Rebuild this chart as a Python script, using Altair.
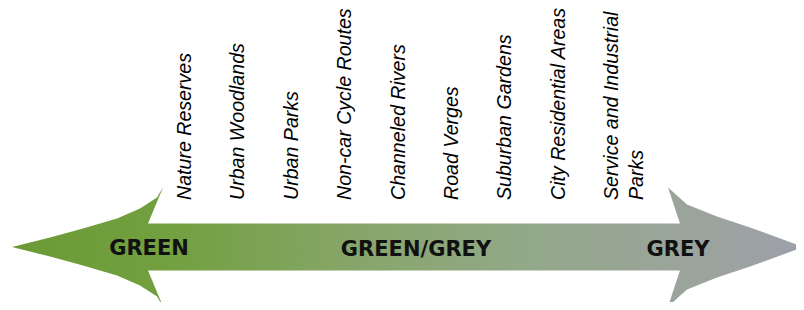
import altair as alt
import pandas as pd

# Categories along the green -> grey spectrum (left to right)
categories = [
    "Nature Reserves",
    "Urban Woodlands",
    "Urban Parks",
    "Non-car Cycle Routes",
    "Channeled Rivers",
    "Road Verges",
    "Suburban Gardens",
    "City Residential Areas",
    "Service and Industrial\nParks",
]

# Spectrum end / middle captions
captions = ["GREEN", "GREEN/GREY", "GREY"]
caption_pos = [149, 416, 678]

# Arrow outline (position along spectrum, half-width)
outline_x = [12, 50, 83, 117, 140, 157, 162.9, 163, 668, 668.1, 687, 717, 750, 783, 804]
outline_w = [0, 9.5, 18.5, 28.5, 38.5, 49.5, 59.5, 23.5, 23.5, 59.5, 42.5, 30.5, 19.5, 7.5, 0]
CENTER = 247

# Swept-back barbs (notches cut out behind each arrow head)
notch_id = ["lt", "lt", "lb", "lb", "rt", "rt", "rb", "rb"]
notch_x = [148, 163, 148, 163, 668, 680, 668, 680]
notch_y = [223.5, 187.5, 270.5, 306.5, 187.5, 223.5, 306.5, 270.5]
notch_y2 = [223.5, 223.5, 270.5, 270.5, 223.5, 223.5, 270.5, 270.5]

arrow_df = pd.DataFrame({
    "x": outline_x,
    "ytop": [CENTER - w for w in outline_w],
    "ybot": [CENTER + w for w in outline_w],
})
notch_df = pd.DataFrame({"id": notch_id, "x": notch_x, "y": notch_y, "y2": notch_y2})
label_df = pd.DataFrame({
    "label": categories,
    "x": [176 + 53.4 * i for i in range(len(categories))],
    "y": [200] * len(categories),
})
cap_df = pd.DataFrame({"label": captions, "x": caption_pos, "y": [249, 250, 250]})

xs = alt.Scale(domain=[8, 796], range=[0, 788])
ys = alt.Scale(domain=[8, 302], range=[0, 294])

gradient = alt.Gradient(
    gradient="linear",
    x1=0, x2=1, y1=0, y2=0,
    stops=[
        alt.GradientStop(color="#6a9a35", offset=0),
        alt.GradientStop(color="#73a040", offset=0.2),
        alt.GradientStop(color="#88a66c", offset=0.45),
        alt.GradientStop(color="#93a889", offset=0.65),
        alt.GradientStop(color="#9ba49b", offset=0.85),
        alt.GradientStop(color="#9da0aa", offset=1),
    ],
)

arrow = alt.Chart(arrow_df).mark_area(color=gradient, opacity=1).encode(
    x=alt.X("x:Q", scale=xs, axis=None),
    y=alt.Y("ytop:Q", scale=ys, axis=None),
    y2="ybot:Q",
)

notches = alt.Chart(notch_df).mark_area(color="white", opacity=1).encode(
    x=alt.X("x:Q", scale=xs, axis=None),
    y=alt.Y("y:Q", scale=ys, axis=None),
    y2="y2:Q",
    detail="id:N",
)

labels = alt.Chart(label_df).mark_text(
    angle=270, align="left", baseline="top", font="Liberation Sans",
    fontStyle="italic", fontSize=19.6, color="#000000", lineBreak="\n", lineHeight=25,
).encode(
    x=alt.X("x:Q", scale=xs, axis=None),
    y=alt.Y("y:Q", scale=ys, axis=None),
    text="label:N",
)

caps = alt.Chart(cap_df).mark_text(
    align="center", baseline="middle", font="DejaVu Sans", fontWeight="bold",
    fontSize=21, color="#111111",
).encode(
    x=alt.X("x:Q", scale=xs, axis=None),
    y=alt.Y("y:Q", scale=ys, axis=None),
    text="label:N",
)

chart = alt.layer(arrow, notches, labels, caps).properties(
    width=788, height=294, padding=0,
    autosize=alt.AutoSizeParams(type="none"),
).configure_view(stroke=None)

chart.save("out.html", embed_options={"renderer": "svg", "actions": False})
